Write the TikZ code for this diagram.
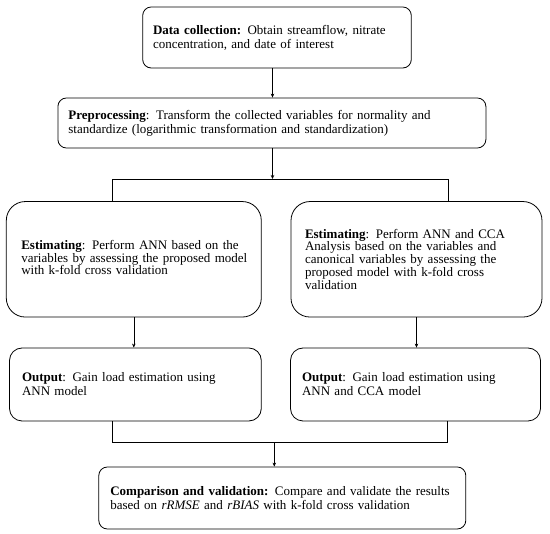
\documentclass[tikz,border=0pt]{standalone}
\usepackage{fontspec}
\setmainfont{Liberation Serif}
\usetikzlibrary{positioning,arrows.meta}
\hfuzz=60pt

\begin{document}
\begin{tikzpicture}[
  x=1pt, y=-1pt,
  box/.style={draw,thick,align=left,inner xsep=0pt,font=\fontsize{13}{14}\selectfont},
  tall/.style={box,rounded corners=19pt,font=\fontsize{13}{11.6}\selectfont},
  flow/.style={-{Stealth[length=4pt,width=3.5pt]},semithick},
  link/.style={semithick}
]
  \useasboundingbox (0,0) rectangle (550,534);
  % stages of the workflow
  \node[box,rounded corners=8.5pt,minimum width=268.6pt,minimum height=61pt,text width=248pt] (collect) at (277,37.5) {\textbf{Data collection:} Obtain streamflow, nitrate\\concentration, and date of interest};
  \node[box,rounded corners=8.5pt,minimum width=428pt,minimum height=50pt,text width=407pt] (prep) at (271.9,123) {\textbf{Preprocessing}: Transform the collected variables for normality and\\standardize (logarithmic transformation and standardization)};
  \node[tall,minimum width=255pt,minimum height=115.5pt,text width=225pt] (estA) at (133.8,259.3) {\begin{tabular}{@{}l@{}}\textbf{Estimating}: Perform ANN based on the\\variables by assessing the proposed model\\with k-fold cross validation\end{tabular}};
  \node[tall,minimum width=251pt,minimum height=115.5pt,text width=223pt] (estB) at (416.5,259.3) {\textbf{Estimating}: Perform ANN and CCA\\Analysis based on the variables and\\canonical variables by assessing the\\proposed model with k-fold cross\\validation};
  \node[box,rounded corners=12.5pt,minimum width=251.8pt,minimum height=73pt,text width=226.8pt] (outA) at (135.4,384.5) {\textbf{Output}: Gain load estimation using\\ANN model};
  \node[box,rounded corners=12.5pt,minimum width=250pt,minimum height=73pt,text width=227pt] (outB) at (415.5,384.5) {\textbf{Output}: Gain load estimation using\\ANN and CCA model};
  \node[box,rounded corners=8.5pt,minimum width=367pt,minimum height=62pt,text width=344pt] (cmp) at (282.3,498) {\textbf{Comparison and validation:} Compare and validate the results\\based on \textit{rRMSE} and \textit{rBIAS} with k-fold cross validation};

  % fork and join
  \coordinate (fork) at (272.5,179);
  \coordinate (forkL) at (112.2,179);
  \coordinate (forkR) at (448,179);
  \coordinate (join) at (274.3,442.5);
  \coordinate (joinL) at (112.2,442.5);
  \coordinate (joinR) at (447,442.5);

  \draw[flow] (fork |- collect.south) -- (fork |- prep.north);
  \draw[flow] (fork |- prep.south) -- (fork);
  \draw[link] (forkL |- estA.north) -- (forkL) -- (forkR) -- (forkR |- estB.north);
  \draw[flow] (estA.south) -- (estA.south |- outA.north);
  \draw[flow] (estB.south) -- (estB.south |- outB.north);
  \draw[link] (joinL |- outA.south) -- (joinL) -- (joinR) -- (joinR |- outB.south);
  \draw[flow] (join) -- (join |- cmp.north);
\end{tikzpicture}
\end{document}
